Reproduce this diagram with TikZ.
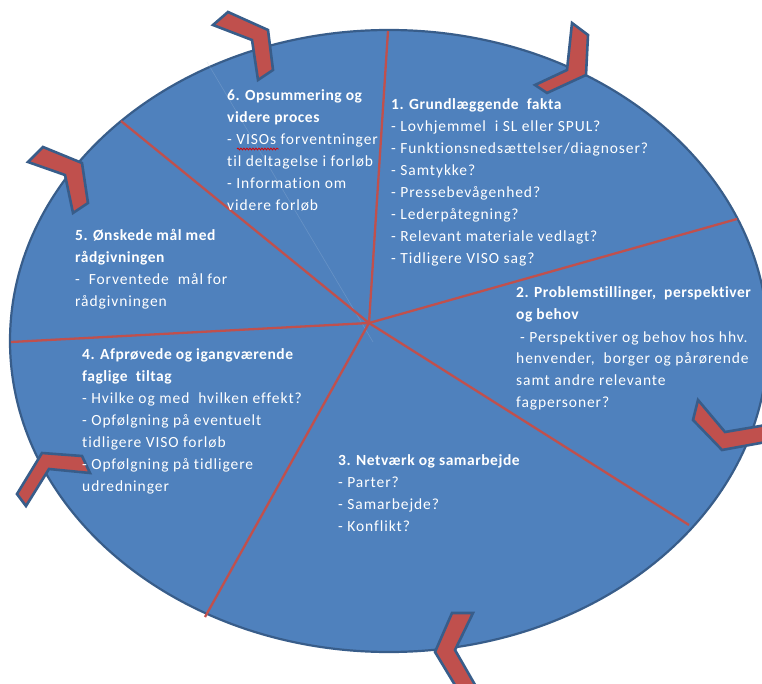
\documentclass[tikz,border=0pt]{standalone}
\usepackage{fontspec}
\setmainfont{Carlito}[LetterSpace=6,Ligatures=NoCommon,BoldFeatures={LetterSpace=3.5}]
\usetikzlibrary{decorations.pathmorphing}
\definecolor{discblue}{HTML}{4F81BD}
\definecolor{rimblue}{HTML}{385D8A}
\definecolor{spokered}{HTML}{C0504D}
\newcommand{\blocktext}[1]{\parbox[t]{320pt}{\raggedright #1}}
\begin{document}
\begin{tikzpicture}[x=1pt,y=-1pt,
  spoke/.style={draw=spokered,line width=2.3pt},
  chevron/.style={fill=spokered,draw=rimblue,line width=2.6pt,line join=miter},
  label/.style={anchor=base west,inner sep=0pt,text=white,
    font=\fontsize{15.5}{22}\selectfont}]
  % canvas
  \useasboundingbox (0,0) rectangle (762,684);
  \fill[white] (0,0) rectangle (762,684);

  % the disc
  \coordinate (disc) at (389,341);
  \draw[fill=discblue,draw=rimblue,line width=2.2pt]
    (disc) ellipse [x radius=379pt, y radius=311pt];

  % faint guide line
  \coordinate (g1) at (207,62);
  \coordinate (g2) at (373,342);
  \draw[white!55!discblue,line width=0.6pt,opacity=0.25] (g1) -- (g2);

  % spokes dividing the six sectors
  \coordinate (hub) at (369,323);
  \coordinate (e1) at (388,31);
  \coordinate (e2) at (737,219);
  \coordinate (e3) at (689,525);
  \coordinate (e4) at (205,617);
  \coordinate (e5) at (11,342);
  \coordinate (e6) at (121,121);
  \foreach \e in {e1,e2,e3,e4,e5,e6}
    \draw[spoke] (hub) -- (\e);

  % chevrons around the rim
  \draw[chevron] (572,23) -- (588,35) -- (586,75) -- (547,93) -- (535,85) -- (567,70) -- cycle;
  \draw[chevron] (698,400) -- (693,420) -- (722,450) -- (766,442) -- (766,425) -- (725,432) -- cycle;
  \draw[chevron] (452,613) -- (473,613) -- (455,650) -- (478,690) -- (458,690) -- (435,652) -- cycle;
  \draw[chevron] (42,453) -- (82,456) -- (90,473) -- (49,469) -- (26,506) -- (17,494) -- cycle;
  \draw[chevron] (43,147) -- (82,163) -- (88,203) -- (73,213) -- (65,175) -- (28,162) -- cycle;
  \draw[chevron] (228,12) -- (268,30) -- (273,70) -- (258,80) -- (252,40) -- (213,25) -- cycle;

  % sector texts
  \node[label] (t1) at (391,110) {\blocktext{%
    \textbf{1. Grundlæggende\ \ fakta}\\
    - Lovhjemmel\ \ i SL eller SPUL?\\
    - Funktionsnedsættelser/diagnoser?\\
    - Samtykke?\\
    - Pressebevågenhed?\\
    - Lederpåtegning?\\
    - Relevant materiale vedlagt?\\
    - Tidligere VISO sag?}};
  \node[label] (t2) at (516,298) {\blocktext{%
    \textbf{2. Problemstillinger,\ \ perspektiver}\\
    \textbf{og behov}\\
    \hspace*{4pt}- Perspektiver og behov hos hhv.\\
    henvender,\ \ borger og pårørende\\
    samt andre relevante\\
    fagpersoner?}};
  \node[label] (t3) at (338,465) {\blocktext{%
    \textbf{3. Netværk og samarbejde}\\
    - Parter?\\
    - Samarbejde?\\
    - Konflikt?}};
  \node[label] (t4) at (82,359) {\blocktext{%
    \textbf{4. Afprøvede og igangværende}\\
    \textbf{faglige\ \ tiltag}\\
    - Hvilke og med\ \ hvilken effekt?\\
    - Opfølgning på eventuelt\\
    tidligere VISO forløb\\
    - Opfølgning på tidligere\\
    udredninger}};
  \node[label] (t5) at (75,241) {\blocktext{%
    \textbf{5. Ønskede mål med}\\
    \textbf{rådgivningen}\\
    -\ \ Forventede\ \ mål for\\
    rådgivningen}};
  \node[label] (t6) at (227,101) {\blocktext{%
    \textbf{6. Opsummering og}\\
    \textbf{videre proces}\\
    - VISOs forventninger\\
    til deltagelse i forløb\\
    - Information om\\
    videre forløb}};

  % spell-check squiggle under "VISOs"
  \coordinate (w1) at (237,149);
  \coordinate (w2) at (279,149);
  \draw[red!85!black,line width=0.8pt,
    decorate,decoration={snake,amplitude=0.9pt,segment length=3pt}] (w1) -- (w2);
\end{tikzpicture}
\end{document}
